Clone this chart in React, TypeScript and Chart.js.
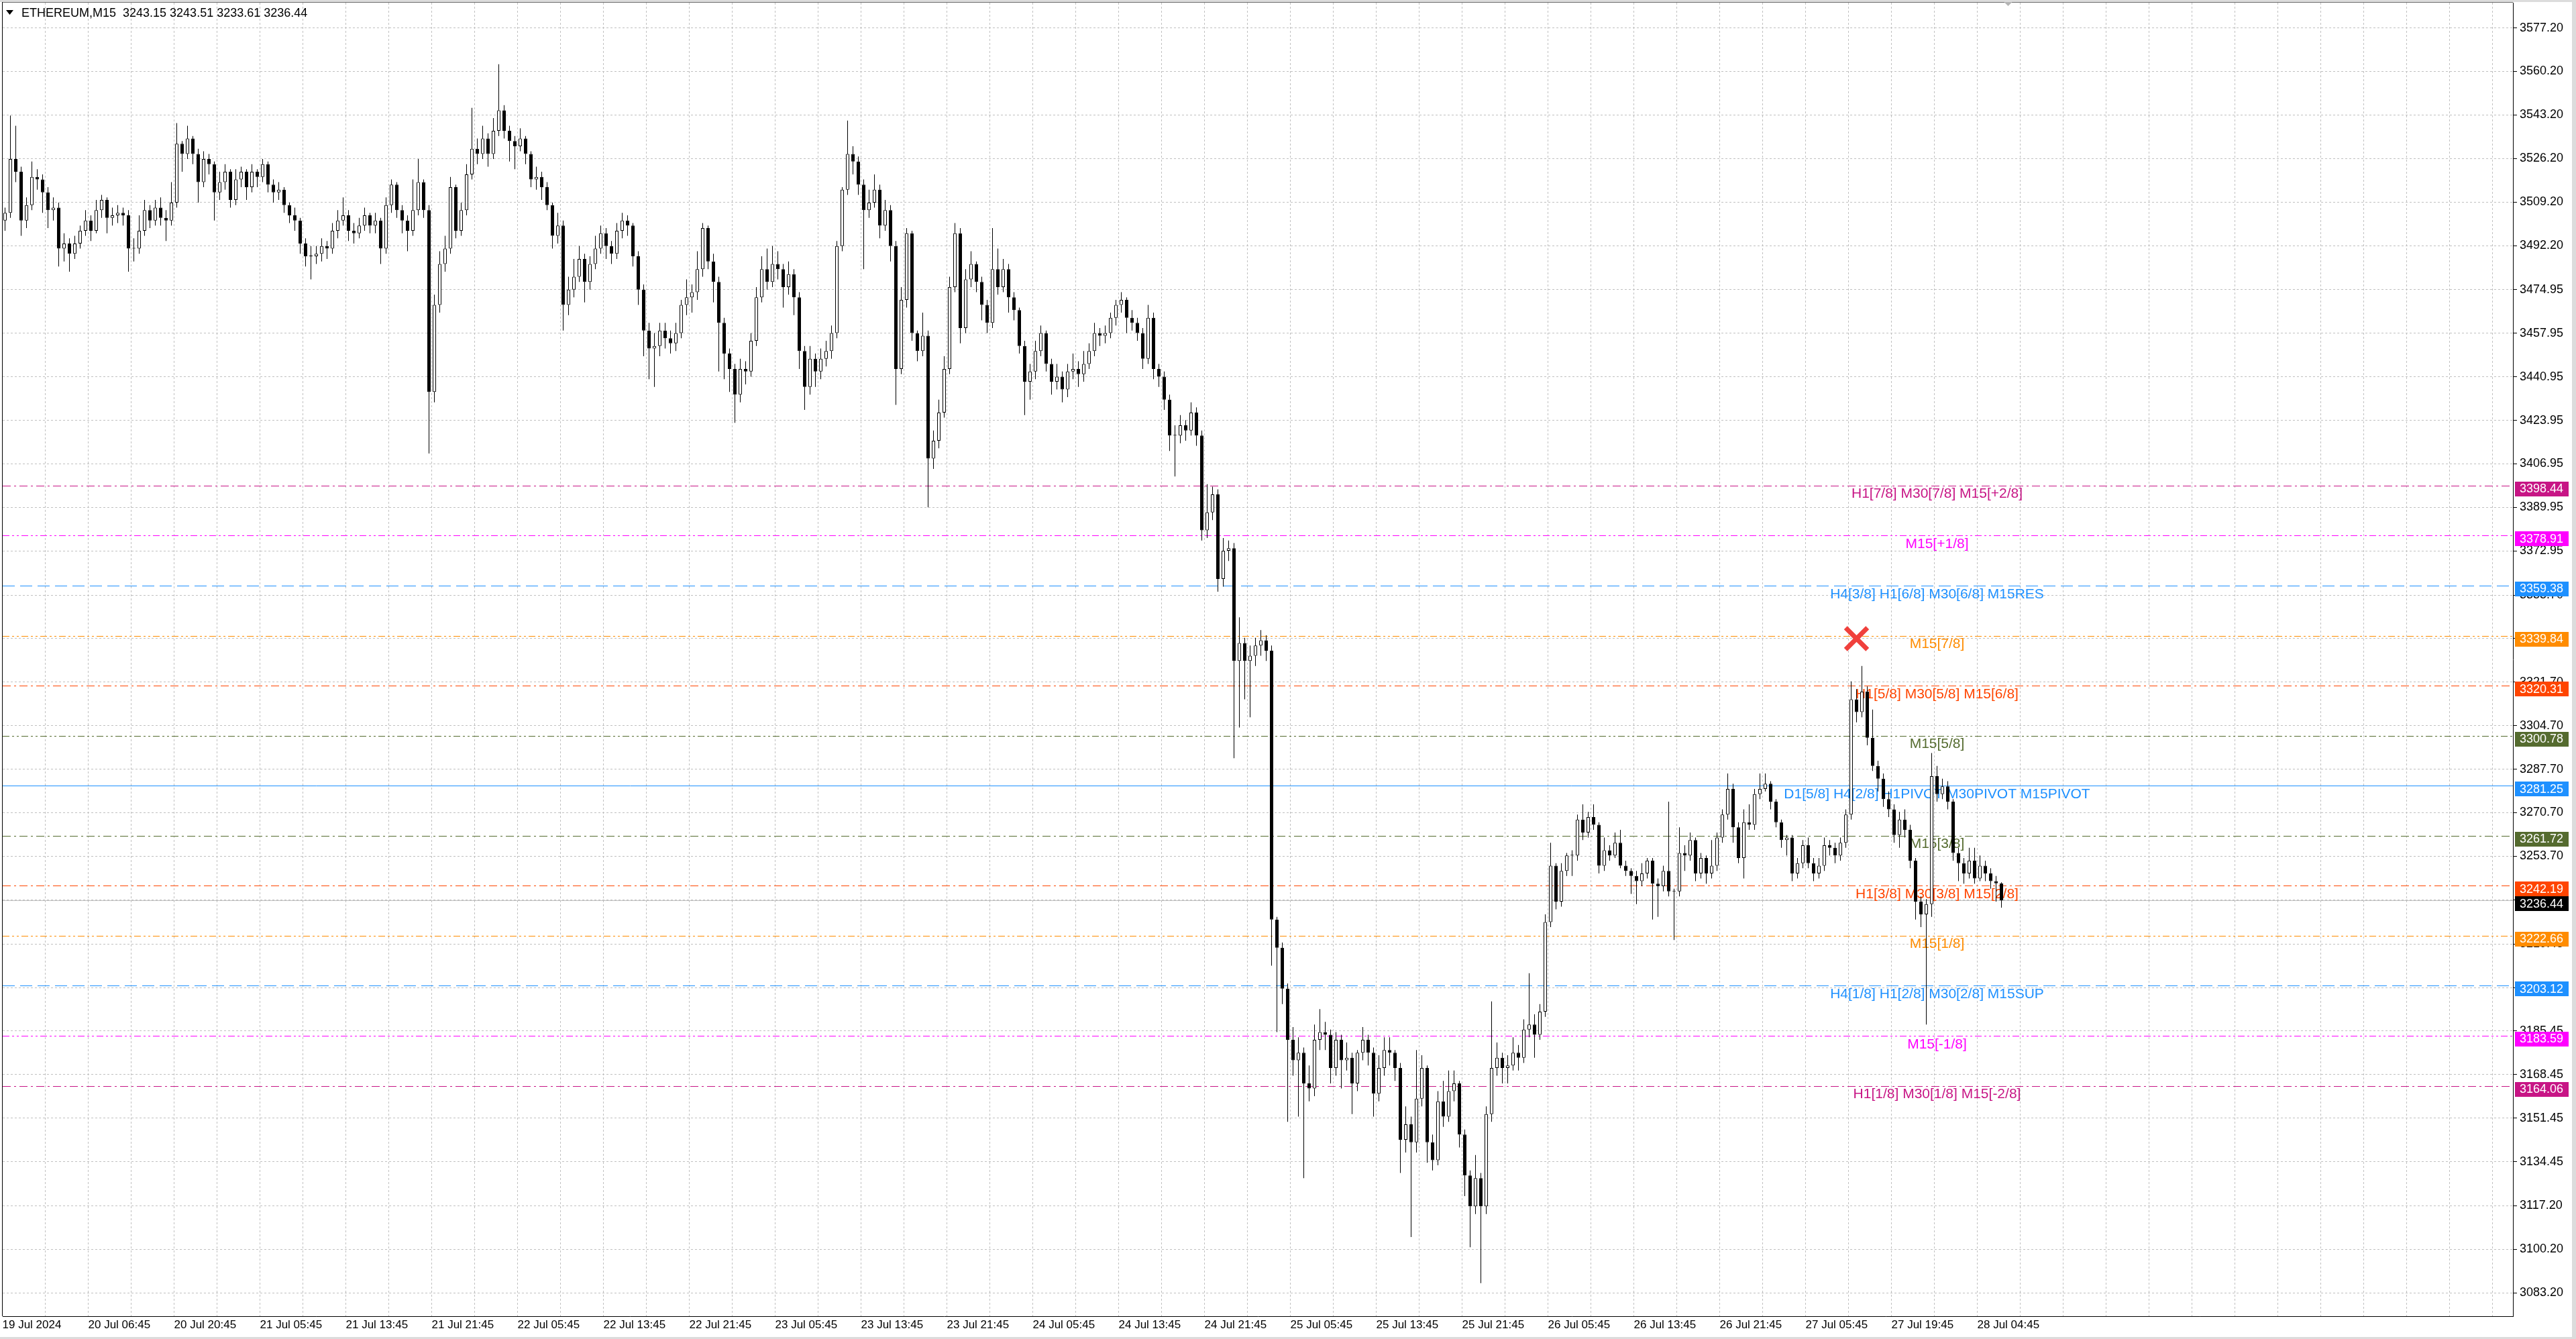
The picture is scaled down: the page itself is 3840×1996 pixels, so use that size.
import { useEffect, useRef } from "react";
import { Chart, registerables } from "chart.js";
import type { ChartConfiguration, Plugin } from "chart.js";

Chart.register(...registerables);

const W = 3840;
const H = 1996;

// --- Symbol / candles (30 min bars) ---
const symbol = "ETHEREUM,M15";
const firstOpen = 3502;

const closes = [
  3505, 3526, 3521, 3502, 3508, 3519, 3518, 3513, 3506, 3507,
  3491, 3493, 3489, 3493, 3498, 3502, 3498, 3506, 3510, 3503,
  3504, 3505, 3504, 3491, 3491, 3498, 3506, 3502, 3507, 3503,
  3502, 3509, 3532, 3528, 3534, 3528, 3517, 3526, 3524, 3513,
  3517, 3521, 3510, 3518, 3521, 3515, 3521, 3519, 3524, 3516,
  3513, 3514, 3508, 3504, 3502, 3493, 3488, 3488, 3489, 3492,
  3491, 3498, 3502, 3504, 3498, 3497, 3500, 3504, 3500, 3502,
  3491, 3508, 3516, 3506, 3502, 3498, 3506, 3517, 3506, 3435,
  3469, 3485, 3491, 3515, 3498, 3506, 3520, 3530, 3528, 3534,
  3528, 3537, 3545, 3537, 3533, 3531, 3534, 3528, 3518, 3519,
  3515, 3508, 3496, 3500, 3469, 3475, 3480, 3487, 3478, 3485,
  3491, 3497, 3492, 3489, 3498, 3502, 3500, 3488, 3475, 3459,
  3452, 3453, 3459, 3456, 3454, 3458, 3469, 3472, 3474, 3483,
  3499, 3486, 3478, 3462, 3450, 3444, 3434, 3444, 3443, 3455,
  3472, 3483, 3478, 3485, 3483, 3476, 3481, 3472, 3451, 3437,
  3448, 3443, 3448, 3451, 3458, 3492, 3514, 3528, 3525, 3516,
  3506, 3509, 3514, 3500, 3506, 3492, 3444, 3471, 3497, 3458,
  3451, 3457, 3409, 3416, 3427, 3444, 3476, 3497, 3460, 3479,
  3485, 3478, 3469, 3462, 3483, 3476, 3483, 3472, 3467, 3453,
  3439, 3443, 3451, 3458, 3446, 3439, 3441, 3436, 3443, 3444,
  3442, 3446, 3451, 3458, 3457, 3458, 3464, 3469, 3471, 3464,
  3462, 3458, 3448, 3464, 3444, 3441, 3432, 3418, 3418, 3422,
  3420, 3427, 3418, 3381, 3388, 3395, 3362, 3373, 3374, 3330,
  3337, 3330, 3332, 3336, 3338, 3334, 3229, 3218, 3202, 3182,
  3174, 3177, 3165, 3163, 3182, 3185, 3184, 3171, 3182, 3174,
  3175, 3165, 3177, 3182, 3177, 3161, 3171, 3178, 3177, 3171,
  3143, 3149, 3142, 3159, 3171, 3142, 3135, 3158, 3152, 3162,
  3165, 3145, 3129, 3117, 3128, 3117, 3153, 3171, 3175, 3171,
  3172, 3177, 3175, 3186, 3188, 3184, 3193, 3228, 3250, 3236,
  3248, 3254, 3254, 3268, 3263, 3269, 3266, 3250, 3256, 3254,
  3259, 3250, 3248, 3246, 3244, 3247, 3252, 3243, 3242, 3248,
  3240, 3240, 3255, 3254, 3260, 3247, 3253, 3247, 3250, 3261,
  3270, 3280, 3265, 3253, 3267, 3266, 3278, 3280, 3282, 3275,
  3267, 3260, 3261, 3247, 3251, 3258, 3251, 3247, 3250, 3258,
  3257, 3254, 3259, 3270, 3315, 3310, 3318, 3300, 3289, 3284,
  3276, 3272, 3262, 3268, 3264, 3252, 3236, 3231, 3235, 3285,
  3278, 3281, 3275, 3255, 3251, 3247, 3252, 3245, 3250, 3247,
  3244, 3243.15, 3236.44,
];

const highs = [
  3507, 3543, 3539, 3523, 3511, 3525, 3522, 3520, 3515, 3511,
  3509, 3497, 3495, 3496, 3500, 3506, 3504, 3510, 3512, 3511,
  3507, 3508, 3507, 3506, 3495, 3504, 3510, 3508, 3510, 3511,
  3506, 3517, 3540, 3533, 3539, 3535, 3530, 3529, 3528, 3525,
  3521, 3524, 3522, 3522, 3523, 3522, 3524, 3522, 3526, 3525,
  3518, 3517, 3515, 3509, 3507, 3503, 3495, 3492, 3492, 3495,
  3494, 3501, 3506, 3511, 3506, 3501, 3503, 3507, 3505, 3505,
  3503, 3511, 3518, 3517, 3508, 3504, 3518, 3526, 3518, 3508,
  3473, 3490, 3496, 3519, 3516, 3509, 3524, 3546, 3534, 3539,
  3536, 3542, 3563, 3547, 3539, 3535, 3538, 3535, 3529, 3523,
  3521, 3517, 3509, 3505, 3502, 3480, 3487, 3492, 3489, 3488,
  3496, 3500, 3499, 3494, 3501, 3505, 3504, 3501, 3490, 3477,
  3462, 3458, 3462, 3462, 3459, 3462, 3471, 3479, 3477, 3490,
  3501, 3500, 3489, 3480, 3464, 3452, 3446, 3448, 3447, 3458,
  3476, 3488, 3491, 3492, 3490, 3485, 3486, 3483, 3474, 3453,
  3453, 3450, 3452, 3455, 3461, 3494, 3515, 3541, 3531, 3527,
  3518, 3514, 3520, 3516, 3510, 3508, 3494, 3476, 3499, 3498,
  3459, 3466, 3459, 3420, 3432, 3449, 3480, 3501, 3499, 3483,
  3490, 3486, 3480, 3471, 3499, 3491, 3487, 3485, 3474, 3468,
  3455, 3446, 3455, 3461, 3459, 3448, 3446, 3443, 3446, 3450,
  3447, 3451, 3454, 3462, 3460, 3461, 3466, 3471, 3474, 3472,
  3467, 3464, 3460, 3469, 3466, 3446, 3443, 3434, 3422, 3426,
  3424, 3431, 3429, 3420, 3399, 3398, 3397, 3378, 3377, 3376,
  3347, 3339, 3336, 3339, 3342, 3340, 3336, 3230, 3220, 3204,
  3187, 3183, 3179, 3172, 3188, 3194, 3189, 3186, 3185, 3184,
  3181, 3177, 3178, 3187, 3184, 3179, 3176, 3183, 3183, 3178,
  3173, 3156, 3152, 3178, 3176, 3172, 3145, 3162, 3166, 3170,
  3170, 3166, 3147, 3131, 3137, 3130, 3156, 3197, 3181, 3177,
  3176, 3183, 3180, 3190, 3208, 3192, 3196, 3231, 3259, 3251,
  3251, 3255, 3256, 3270, 3274, 3271, 3274, 3267, 3261, 3258,
  3263, 3264, 3252, 3249, 3248, 3251, 3253, 3253, 3245, 3250,
  3275, 3241, 3265, 3258, 3263, 3261, 3255, 3254, 3260, 3263,
  3272, 3286, 3282, 3267, 3272, 3274, 3280, 3286, 3286, 3283,
  3276, 3268, 3262, 3262, 3253, 3260, 3261, 3253, 3253, 3261,
  3260, 3259, 3261, 3272, 3322, 3319, 3328, 3320, 3311, 3291,
  3286, 3279, 3274, 3271, 3272, 3266, 3253, 3238, 3237, 3294,
  3289, 3284, 3283, 3276, 3257, 3253, 3257, 3257, 3254, 3252,
  3249, 3246, 3243.51,
];

const lows = [
  3498, 3503, 3517, 3496, 3499, 3506, 3514, 3505, 3499, 3502,
  3484, 3486, 3482, 3487, 3491, 3496, 3494, 3497, 3503, 3497,
  3500, 3501, 3500, 3482, 3486, 3489, 3496, 3499, 3500, 3500,
  3494, 3500, 3507, 3521, 3526, 3524, 3509, 3515, 3520, 3502,
  3510, 3514, 3507, 3508, 3515, 3510, 3513, 3515, 3517, 3513,
  3509, 3510, 3505, 3501, 3498, 3489, 3484, 3479, 3485, 3486,
  3487, 3489, 3495, 3500, 3494, 3493, 3495, 3498, 3497, 3497,
  3485, 3489, 3505, 3503, 3497, 3490, 3496, 3504, 3503, 3411,
  3431, 3466, 3482, 3489, 3495, 3496, 3504, 3518, 3524, 3526,
  3523, 3526, 3535, 3534, 3525, 3522, 3529, 3524, 3515, 3514,
  3510, 3506, 3491, 3493, 3459, 3465, 3472, 3478, 3470, 3475,
  3483, 3489, 3487, 3485, 3487, 3495, 3496, 3484, 3469, 3449,
  3440, 3437, 3449, 3452, 3450, 3451, 3456, 3465, 3466, 3471,
  3480, 3483, 3470, 3443, 3440, 3435, 3423, 3431, 3438, 3441,
  3453, 3470, 3475, 3476, 3479, 3468, 3473, 3465, 3444, 3428,
  3434, 3437, 3440, 3445, 3448, 3456, 3490, 3512, 3520, 3512,
  3483, 3503, 3507, 3495, 3498, 3486, 3430, 3442, 3468, 3455,
  3447, 3449, 3390, 3405, 3413, 3425, 3442, 3474, 3454, 3458,
  3476, 3474, 3463, 3458, 3460, 3473, 3474, 3466, 3463, 3450,
  3426, 3432, 3440, 3449, 3443, 3434, 3436, 3431, 3433, 3440,
  3437, 3439, 3444, 3449, 3453, 3454, 3456, 3461, 3466, 3458,
  3459, 3455, 3444, 3446, 3440, 3437, 3428, 3412, 3402, 3415,
  3416, 3418, 3414, 3377, 3378, 3385, 3357, 3359, 3369, 3292,
  3304, 3315, 3308, 3328, 3332, 3330, 3211, 3185, 3196, 3150,
  3168, 3152, 3128, 3158, 3160, 3178, 3178, 3165, 3168, 3163,
  3170, 3153, 3162, 3174, 3172, 3152, 3158, 3168, 3172, 3166,
  3130, 3138, 3105, 3138, 3156, 3134, 3131, 3133, 3148, 3150,
  3158, 3140, 3121, 3101, 3114, 3087, 3114, 3150, 3168, 3165,
  3165, 3170, 3170, 3173, 3183, 3175, 3182, 3191, 3226, 3233,
  3234, 3246, 3246, 3252, 3260, 3261, 3264, 3247, 3248, 3252,
  3253, 3249, 3246, 3239, 3235, 3242, 3245, 3229, 3230, 3240,
  3238, 3221, 3238, 3248, 3252, 3244, 3245, 3243, 3245, 3248,
  3259, 3268, 3259, 3251, 3245, 3264, 3264, 3276, 3279, 3272,
  3265, 3257, 3254, 3244, 3245, 3249, 3249, 3244, 3245, 3248,
  3254, 3251, 3252, 3257, 3268, 3306, 3308, 3297, 3287, 3279,
  3273, 3269, 3259, 3257, 3261, 3249, 3229, 3226, 3188, 3230,
  3275, 3276, 3272, 3252, 3244, 3243, 3245, 3243, 3244, 3244,
  3241, 3236, 3233.61,
];

const opens = closes.map((_, i) => (i === 0 ? firstOpen : closes[i - 1]));

// --- Axis labels ---
const timeLabels = [
  "19 Jul 2024", "20 Jul 06:45", "20 Jul 20:45", "21 Jul 05:45", "21 Jul 13:45",
  "21 Jul 21:45", "22 Jul 05:45", "22 Jul 13:45", "22 Jul 21:45", "23 Jul 05:45",
  "23 Jul 13:45", "23 Jul 21:45", "24 Jul 05:45", "24 Jul 13:45", "24 Jul 21:45",
  "25 Jul 05:45", "25 Jul 13:45", "25 Jul 21:45", "26 Jul 05:45", "26 Jul 13:45",
  "26 Jul 21:45", "27 Jul 05:45", "27 Jul 19:45", "28 Jul 04:45",
];

const priceTicks = [
  3577.2, 3560.2, 3543.2, 3526.2, 3509.2, 3492.2, 3474.95, 3457.95, 3440.95, 3423.95,
  3406.95, 3389.95, 3372.95, 3355.7, 3338.7, 3321.7, 3304.7, 3287.7, 3270.7, 3253.7,
  3236.7, 3219.45, 3202.45, 3185.45, 3168.45, 3151.45, 3134.45, 3117.2, 3100.2, 3083.2,
];

// --- Murrey math levels ---
const levelPrices = [
  3398.44, 3378.91, 3359.38, 3339.84, 3320.31, 3300.78, 3281.25,
  3261.72, 3242.19, 3222.66, 3203.12, 3183.59, 3164.06,
];
const levelNames = [
  "H1[7/8] M30[7/8] M15[+2/8]",
  "M15[+1/8]",
  "H4[3/8] H1[6/8] M30[6/8] M15RES",
  "M15[7/8]",
  "H1[5/8] M30[5/8] M15[6/8]",
  "M15[5/8]",
  "D1[5/8] H4[2/8] H1PIVOT M30PIVOT M15PIVOT",
  "M15[3/8]",
  "H1[3/8] M30[3/8] M15[2/8]",
  "M15[1/8]",
  "H4[1/8] H1[2/8] M30[2/8] M15SUP",
  "M15[-1/8]",
  "H1[1/8] M30[1/8] M15[-2/8]",
];

// sell signal cross
const signalIndex = [345];
const signalPrice = [3338.7];

// --- styles ---
const DASH_DOT = [12, 5, 3, 5];
const DASH_DOT_DOT = [10, 4, 3, 4, 3, 4];
const LONG_DASH = [18, 8];
const SOLID: number[] = [];
const levelColors = [
  "#C71585", "#FF00FF", "#1E90FF", "#FF8C00", "#FF4500", "#556B2F", "#1E90FF",
  "#556B2F", "#FF4500", "#FF8C00", "#1E90FF", "#FF00FF", "#C71585",
];
const levelDashes = [
  DASH_DOT, DASH_DOT_DOT, LONG_DASH, DASH_DOT_DOT, DASH_DOT, DASH_DOT_DOT, SOLID,
  DASH_DOT, DASH_DOT, DASH_DOT_DOT, LONG_DASH, DASH_DOT_DOT, DASH_DOT,
];
const LABEL_BAR = 360; // bar the level captions are centred on
const FONT = "'Liberation Sans', Arial, sans-serif";

const n = closes.length;
const bid = closes[n - 1];

// --- background, level lines and captions (behind candles) ---
const levelsPlugin: Plugin<"bar"> = {
  id: "levels",
  beforeDraw(chart) {
    const { ctx } = chart;
    ctx.save();
    ctx.fillStyle = "#ffffff";
    ctx.fillRect(0, 0, W, H);
    ctx.fillStyle = "#dcdcdc";
    ctx.fillRect(0, 0, W, 3);
    ctx.fillRect(0, H - 3, W, 3);
    ctx.fillRect(W - 6, 0, 6, H);
    ctx.restore();
  },
  beforeDatasetsDraw(chart) {
    const { ctx, chartArea: a } = chart;
    const x = chart.scales.x;
    const y = chart.scales.y;
    ctx.save();
    ctx.beginPath();
    ctx.rect(a.left, a.top, a.right - a.left, a.bottom - a.top);
    ctx.clip();
    ctx.lineWidth = 1;

    const by = Math.round(y.getPixelForValue(bid)) + 0.5;
    ctx.strokeStyle = "#c0c0c0";
    ctx.setLineDash([]);
    ctx.beginPath();
    ctx.moveTo(a.left, by);
    ctx.lineTo(a.right, by);
    ctx.stroke();

    levelPrices.forEach((p, k) => {
      const yy = Math.round(y.getPixelForValue(p)) + 0.5;
      ctx.strokeStyle = levelColors[k];
      ctx.setLineDash(levelDashes[k]);
      ctx.beginPath();
      ctx.moveTo(a.left, yy);
      ctx.lineTo(a.right, yy);
      ctx.stroke();
    });

    ctx.setLineDash([]);
    ctx.font = `21px ${FONT}`;
    ctx.textAlign = "center";
    ctx.textBaseline = "alphabetic";
    const tx = x.getPixelForValue(LABEL_BAR);
    levelPrices.forEach((p, k) => {
      ctx.fillStyle = levelColors[k];
      ctx.fillText(levelNames[k], tx, y.getPixelForValue(p) + 18.5);
    });
    ctx.restore();
  },
  afterDraw(chart) {
    const { ctx, chartArea: a } = chart;
    const x = chart.scales.x;
    const y = chart.scales.y;
    ctx.save();

    // frame (top / left)
    ctx.fillStyle = "#6a6a6a";
    ctx.fillRect(a.left - 1, a.top - 1, a.right - a.left + 1, 1);
    ctx.fillStyle = "#000000";
    ctx.fillRect(a.left - 1, a.top - 1, 1, a.bottom - a.top + 1);

    // price boxes on the axis
    ctx.font = `18px ${FONT}`;
    ctx.textAlign = "left";
    ctx.textBaseline = "middle";
    const drawBox = (p: number, color: string) => {
      const yy = y.getPixelForValue(p);
      ctx.fillStyle = color;
      ctx.fillRect(y.left + 3, Math.round(yy) - 6, 80, 22);
      ctx.fillStyle = "#ffffff";
      ctx.fillText(p.toFixed(2), y.left + 10, yy + 5.5);
    };
    drawBox(bid, "#000000");
    levelPrices.forEach((p, k) => drawBox(p, levelColors[k]));

    // header
    ctx.fillStyle = "#000000";
    ctx.beginPath();
    ctx.moveTo(9, 15);
    ctx.lineTo(20, 15);
    ctx.lineTo(14.5, 22);
    ctx.closePath();
    ctx.fill();
    ctx.font = `18px ${FONT}`;
    ctx.textBaseline = "alphabetic";
    const last = n - 1;
    const header = `${symbol}  ${opens[last].toFixed(2)} ${highs[last].toFixed(2)} ${lows[last].toFixed(2)} ${closes[last].toFixed(2)}`;
    ctx.fillText(header, 32, 25);

    // chart shift marker
    const sx = x.getPixelForValue(last) + 10;
    ctx.fillStyle = "#b4b4b4";
    ctx.beginPath();
    ctx.moveTo(sx - 6, 3);
    ctx.lineTo(sx + 6, 3);
    ctx.lineTo(sx, 9);
    ctx.closePath();
    ctx.fill();
    ctx.restore();
  },
};

const idx = closes.map((_, i) => i);
const gridTicks = Array.from({ length: 59 }, (_, g) => 8 * g - 0.5);

const config: ChartConfiguration<"bar"> = {
  type: "bar",
  data: {
    datasets: [
      {
        label: "signal",
        type: "scatter" as any,
        data: signalIndex.map((v, k) => ({ x: v, y: signalPrice[k] })) as any,
        pointStyle: "crossRot",
        pointRadius: 23,
        pointBorderWidth: 7,
        pointBorderColor: "#f0403c",
        pointBackgroundColor: "#f0403c",
        order: 0,
      } as any,
      {
        label: "body",
        data: idx.map((i) => ({ x: i, y: [opens[i], closes[i]] })) as any,
        backgroundColor: idx.map((i) => (closes[i] >= opens[i] ? "#ffffff" : "#000000")),
        borderColor: "#000000",
        borderWidth: 1,
        borderSkipped: false,
        barThickness: 5,
        grouped: false,
        inflateAmount: 0,
        minBarLength: 1,
        order: 1,
      },
      {
        label: "wick",
        data: idx.map((i) => ({ x: i, y: [lows[i], highs[i]] })) as any,
        backgroundColor: "#000000",
        borderWidth: 0,
        barThickness: 1,
        grouped: false,
        inflateAmount: 0,
        minBarLength: 1,
        order: 2,
      },
    ],
  },
  options: {
    responsive: false,
    animation: false,
    devicePixelRatio: 1,
    events: [],
    layout: { padding: { left: 4, top: 4, right: 0, bottom: 0 }, autoPadding: false },
    plugins: { legend: { display: false }, tooltip: { enabled: false } },
    scales: {
      x: {
        type: "linear",
        min: -0.4375,
        max: 467.3125,
        offset: false,
        afterBuildTicks: (s) => {
          s.ticks = gridTicks.map((v) => ({ value: v }));
        },
        afterFit: (s: any) => {
          s.height = 34;
          s.paddingLeft = 0;
          s.paddingRight = 0;
        },
        ticks: {
          autoSkip: false,
          maxRotation: 0,
          minRotation: 0,
          align: "start",
          padding: 3,
          color: "#000000",
          font: { family: FONT, size: 17 },
          callback: (v) => {
            const g = Math.round((Number(v) + 0.5) / 8);
            return g % 2 === 0 && g / 2 < timeLabels.length ? timeLabels[g / 2] : "";
          },
        },
        grid: { color: "#c0c0c0", lineWidth: 1, drawTicks: false, offset: false },
        border: { display: true, color: "#000000", width: 1, dash: [3, 3] },
      },
      y: {
        type: "linear",
        position: "right",
        min: 3074.08,
        max: 3587.05,
        beginAtZero: false,
        afterBuildTicks: (s) => {
          s.ticks = priceTicks.map((v) => ({ value: v }));
        },
        afterFit: (s: any) => {
          s.width = 94;
          s.paddingTop = 0;
          s.paddingBottom = 0;
        },
        ticks: {
          autoSkip: false,
          padding: 4,
          color: "#000000",
          font: { family: FONT, size: 18 },
          callback: (v) => Number(v).toFixed(2),
        },
        grid: { color: "#c0c0c0", lineWidth: 1, drawTicks: true, tickLength: 6, tickColor: "#000000", tickWidth: 1 },
        border: { display: true, color: "#000000", width: 1, dash: [3, 3] },
      },
    },
  },
  plugins: [levelsPlugin],
};

export default function App() {
  const canvasRef = useRef<HTMLCanvasElement | null>(null);

  useEffect(() => {
    document.body.style.margin = "0";
    if (!canvasRef.current) return;
    const chart = new Chart(canvasRef.current, config);
    return () => chart.destroy();
  }, []);

  return (
    <div style={{ width: W, height: H }}>
      <canvas ref={canvasRef} width={W} height={H} style={{ display: "block", width: W, height: H }} />
    </div>
  );
}
